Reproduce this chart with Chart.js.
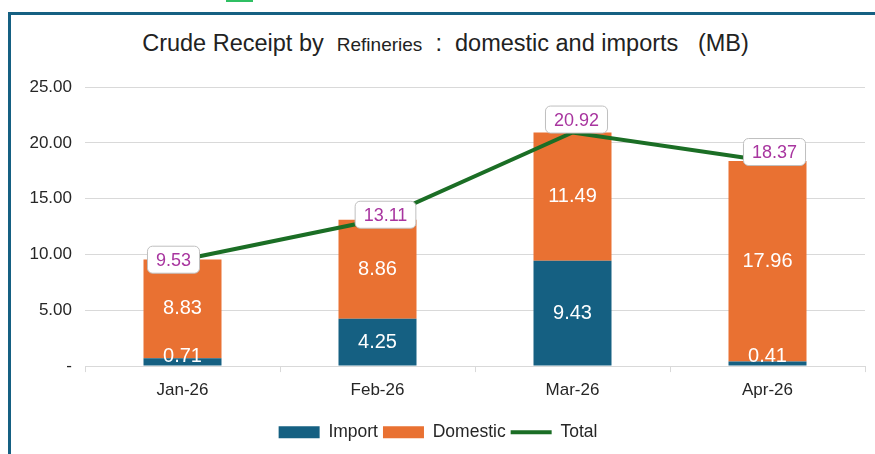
<!DOCTYPE html>
<html>
<head>
<meta charset="utf-8">
<script src="https://cdn.jsdelivr.net/npm/chart.js@4.4.1/dist/chart.umd.min.js"></script>
<style>
  html, body { margin: 0; padding: 0; background: #fff; }
  body { width: 875px; height: 454px; position: relative; overflow: hidden; font-family: "Liberation Sans", Arial, sans-serif; }
  .frame { position: absolute; left: 8px; top: 12px; right: 0; bottom: 0; border-top: 3px solid #156082; border-left: 3px solid #156082; }
  .tab { position: absolute; top: 0; left: 226px; width: 27px; height: 2px; background: #2fbf63; }
  .title { position: absolute; left: 8px; width: 875px; top: 30px; text-align: center; white-space: pre; color: #222; font-size: 23.5px; }
  .title .small { font-size: 19px; }
  #c { position: absolute; left: 0; top: 0; }
</style>
</head>
<body>
<div class="tab"></div>
<div class="frame"></div>
<div class="title">Crude Receipt by  <span class="small">Refineries</span>  :  domestic and imports   (MB)</div>
<canvas id="c" width="875" height="454"></canvas>
<script>
const months = ['Jan-26', 'Feb-26', 'Mar-26', 'Apr-26'];
const importVals = [0.71, 4.25, 9.43, 0.41];
const domesticVals = [8.83, 8.86, 11.49, 17.96];
const totalVals = [9.53, 13.11, 20.92, 18.37];

// nudges for the boxed total labels (dx, dy in px from the point)
const totalNudge = [[-9, 0], [8, -5], [4, -13], [7, -9]];

const importCol = '#156082';
const domesticCol = '#E97132';
const totalCol = '#1b6e25';
const font = '"Liberation Sans", Arial, sans-serif';

const labelPlugin = {
    id: 'labels',
    afterDatasetsDraw(chart) {
        const ctx = chart.ctx;
        const area = chart.chartArea;
        ctx.save();
        ctx.textAlign = 'center';
        ctx.textBaseline = 'middle';
        ctx.font = '20px ' + font;
        ctx.fillStyle = '#fff';
        [0, 1].forEach(di => {
            const meta = chart.getDatasetMeta(di);
            meta.data.forEach((bar, i) => {
                let y = (bar.y + bar.base) / 2;
                if (y > area.bottom - 10) y = area.bottom - 10;
                ctx.fillText(chart.data.datasets[di].data[i].toFixed(2), bar.x, y);
            });
        });

        const meta = chart.getDatasetMeta(2);
        ctx.font = '18px ' + font;
        meta.data.forEach((pt, i) => {
            const txt = totalVals[i].toFixed(2);
            const w = ctx.measureText(txt).width + 17;
            const h = 27;
            const cx = pt.x + totalNudge[i][0];
            const cy = pt.y + totalNudge[i][1];
            ctx.beginPath();
            ctx.roundRect(cx - w / 2, cy - h / 2, w, h, 5);
            ctx.fillStyle = '#fff';
            ctx.fill();
            ctx.lineWidth = 1;
            ctx.strokeStyle = '#bfbfbf';
            ctx.stroke();
            ctx.fillStyle = '#a8359f';
            ctx.fillText(txt, cx, cy + 1);
        });
        ctx.restore();
    }
};

new Chart(document.getElementById('c'), {
    data: {
        labels: months,
        datasets: [
            { type: 'bar', label: 'Import', data: importVals, backgroundColor: importCol, stack: 's', barPercentage: 0.4, categoryPercentage: 1, order: 1 },
            { type: 'bar', label: 'Domestic', data: domesticVals, backgroundColor: domesticCol, stack: 's', barPercentage: 0.4, categoryPercentage: 1, order: 1 },
            { type: 'line', label: 'Total', data: totalVals, borderColor: totalCol, backgroundColor: totalCol, borderWidth: 4, pointRadius: 0, tension: 0, order: 0 }
        ]
    },
    options: {
        responsive: false,
        animation: false,
        layout: { padding: { top: 87, left: 11, right: 10, bottom: 3 } },
        scales: {
            x: {
                stacked: true,
                afterFit: (s) => { s.height += 10; },
                grid: { offset: true, drawOnChartArea: false, tickLength: 6, color: '#d9d9d9' },
                border: { color: '#d9d9d9' },
                ticks: { color: '#262626', font: { family: font, size: 17 }, padding: 8 }
            },
            y: {
                stacked: true,
                min: 0,
                max: 25,
                afterFit: (s) => { s.width = 74; },
                ticks: {
                    stepSize: 5,
                    padding: 13,
                    color: '#262626',
                    font: { family: font, size: 17 },
                    callback: (v) => v === 0 ? '-' : v.toFixed(2)
                },
                grid: { color: '#d9d9d9', drawTicks: false },
                border: { display: false }
            }
        },
        plugins: {
            tooltip: { enabled: false },
            legend: {
                position: 'bottom',
                labels: {
                    usePointStyle: true,
                    pointStyleWidth: 41,
                    boxHeight: 12,
                    padding: 5,
                    color: '#262626',
                    font: { family: font, size: 17.5 },
                    generateLabels: (chart) => chart.data.datasets.map((ds, i) => ({
                        text: ds.label,
                        fillStyle: ds.backgroundColor,
                        strokeStyle: i === 2 ? ds.borderColor : ds.backgroundColor,
                        lineWidth: i === 2 ? 4 : 0,
                        pointStyle: i === 2 ? 'line' : 'rect',
                        datasetIndex: i,
                        fontColor: '#262626'
                    }))
                }
            }
        }
    },
    plugins: [labelPlugin]
});
</script>
</body>
</html>
